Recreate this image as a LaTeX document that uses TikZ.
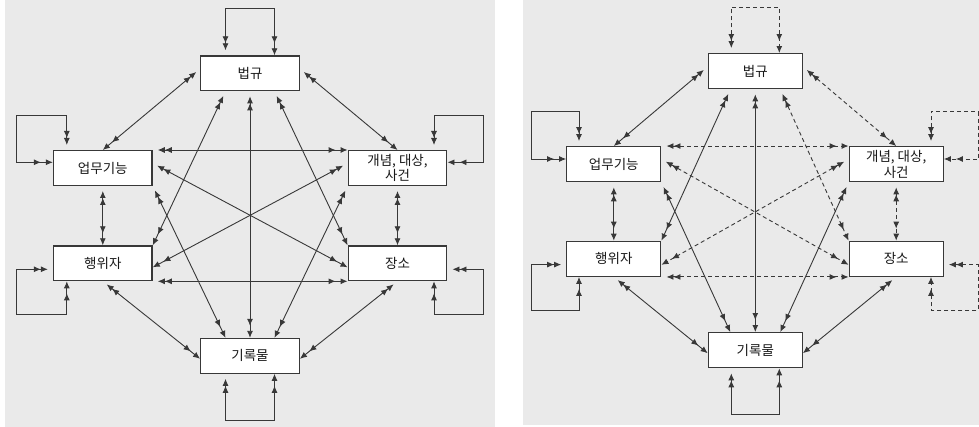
\documentclass[tikz,border=0pt]{standalone}
\usepackage{fontspec}
\newfontfamily\kr{Noto Sans CJK KR}
\usetikzlibrary{arrows.meta, positioning}
\definecolor{panelgray}{HTML}{EAEAEA}
\definecolor{linegray}{HTML}{383838}
\tikzstyle{block}=[draw=linegray,fill=white,rectangle,line width=1.3pt,inner sep=0pt,align=center,text=black!90,font=\kr\fontsize{13.5pt}{15.5pt}\selectfont]
\tikzstyle{lblock}=[block,minimum width=98.6pt,minimum height=34.7pt]
\tikzstyle{rblock}=[block,minimum width=94pt,minimum height=35pt]
\tikzstyle{link}=[draw=linegray,line width=0.9pt,arrows={Latex[length=7pt,width=6pt,sep=5pt]Latex[length=7pt,width=6pt]-Latex[length=7pt,width=6pt,sep=5pt]Latex[length=7pt,width=6pt]}]
\tikzstyle{dlink}=[link,dash pattern=on 4pt off 3pt]

\begin{document}
\begin{tikzpicture}[x=1pt,y=-1pt]
  \useasboundingbox (0,0) rectangle (979,427);
  \fill[panelgray] (5,0) rectangle (495,427);
  \fill[panelgray] (523,0) rectangle (979,425);

  % left: all links solid
  \node[lblock] (Lbeop) at (250,73.3) {법규};
  \node[lblock] (Lup) at (102.8,168) {업무기능};
  \node[lblock] (Lgae) at (397.5,168) {개념, 대상,\\사건};
  \node[lblock, below=59.3pt of Lup] (Lhaeng) {행위자};
  \node[lblock, below=59.3pt of Lgae] (Ljang) {장소};
  \node[lblock] (Lgi) at (250,355.8) {기록물};

  \coordinate (Lbeoptop) at (250,8.3);
  \coordinate (Luptop) at (16.7,115);
  \coordinate (Lhaengbot) at (16.7,314);
  \coordinate (Lgaetop) at (483.3,115);
  \coordinate (Ljangbot) at (483.3,314);
  \coordinate (Lgibot) at (250,420.7);

  \draw[link] ([xshift=-24.5pt]Lbeop.north) |- (Lbeoptop) -| ([xshift=24.5pt]Lbeop.north);
  \draw[link] ([xshift=-36pt]Lup.north) |- (Luptop) |- ([yshift=5.7pt]Lup.west);
  \draw[link] ([yshift=-6pt]Lhaeng.west) -| (Lhaengbot) -| ([xshift=-36pt]Lhaeng.south);
  \draw[link] ([xshift=36.5pt]Lgae.north) |- (Lgaetop) |- ([yshift=5.7pt]Lgae.east);
  \draw[link] ([yshift=-6pt]Ljang.east) -| (Ljangbot) -| ([xshift=36.5pt]Ljang.south);
  \draw[link] ([xshift=-24.5pt]Lgi.south) |- (Lgibot) -| ([xshift=24.5pt]Lgi.south);

  \draw[link] ([yshift=4.5pt]Lbeop.west) -- (Lup.north);
  \draw[link] ([yshift=4.5pt]Lbeop.east) -- (Lgae.north);
  \draw[link] ([xshift=-24.5pt]Lbeop.south) -- (Lhaeng.north east);
  \draw[link] (Lbeop.south) -- (Lgi.north);
  \draw[link] ([xshift=24.5pt]Lbeop.south) -- (Ljang.north west);
  \draw[link] (Lup.north east) -- (Lgae.north west);
  \draw[link] (Lhaeng.south east) -- (Ljang.south west);
  \draw[link] ([yshift=4.7pt]Lup.east) -- ([yshift=-4pt]Ljang.west);
  \draw[link] ([yshift=4.7pt]Lgae.west) -- ([yshift=-4pt]Lhaeng.east);
  \draw[link] (Lup.south east) -- ([xshift=-24.5pt]Lgi.north);
  \draw[link] (Lgae.south west) -- ([xshift=24.5pt]Lgi.north);
  \draw[link] (Lup.south) -- (Lhaeng.north);
  \draw[link] (Lgae.south) -- (Ljang.north);
  \draw[link] (Lhaeng.south) -- ([yshift=-3pt]Lgi.west);
  \draw[link] (Ljang.south) -- ([yshift=-3pt]Lgi.east);

  % right: some links dashed
  \node[rblock] (Rbeop) at (755.3,71.2) {법규};
  \node[rblock] (Rup) at (613.8,164.2) {업무기능};
  \node[rblock] (Rgae) at (896.2,164.2) {개념, 대상,\\사건};
  \node[rblock, below=58.3pt of Rup] (Rhaeng) {행위자};
  \node[rblock, below=58.3pt of Rgae] (Rjang) {장소};
  \node[rblock] (Rgi) at (755.3,350.2) {기록물};

  \coordinate (Rbeoptop) at (755.3,7.3);
  \coordinate (Ruptop) at (531.7,111.7);
  \coordinate (Rhaengbot) at (531.7,310);
  \coordinate (Rgaetop) at (978.2,111.7);
  \coordinate (Rjangbot) at (978.2,310);
  \coordinate (Rgibot) at (755.3,414.3);

  \draw[dlink] ([xshift=-24pt]Rbeop.north) |- (Rbeoptop) -| ([xshift=24pt]Rbeop.north);
  \draw[link] ([xshift=-34.8pt]Rup.north) |- (Ruptop) |- ([yshift=5.2pt]Rup.west);
  \draw[link] ([yshift=-5.8pt]Rhaeng.west) -| (Rhaengbot) -| ([xshift=-34.8pt]Rhaeng.south);
  \draw[dlink] ([xshift=34.8pt]Rgae.north) |- (Rgaetop) |- ([yshift=5.2pt]Rgae.east);
  \draw[dlink] ([yshift=-5.8pt]Rjang.east) -| (Rjangbot) -| ([xshift=34.8pt]Rjang.south);
  \draw[link] ([xshift=-24pt]Rgi.south) |- (Rgibot) -| ([xshift=24pt]Rgi.south);

  \draw[link] ([yshift=4.5pt]Rbeop.west) -- (Rup.north);
  \draw[dlink] ([yshift=4.5pt]Rbeop.east) -- (Rgae.north);
  \draw[link] ([xshift=-25pt]Rbeop.south) -- (Rhaeng.north east);
  \draw[link] (Rbeop.south) -- (Rgi.north);
  \draw[dlink] ([xshift=25pt]Rbeop.south) -- (Rjang.north west);
  \draw[dlink] (Rup.north east) -- (Rgae.north west);
  \draw[dlink] (Rhaeng.south east) -- (Rjang.south west);
  \draw[dlink] ([yshift=5pt]Rup.east) -- ([yshift=-6pt]Rjang.west);
  \draw[dlink] ([yshift=5pt]Rgae.west) -- ([yshift=-6pt]Rhaeng.east);
  \draw[link] (Rup.south east) -- ([xshift=-25pt]Rgi.north);
  \draw[link] (Rgae.south west) -- ([xshift=25pt]Rgi.north);
  \draw[link] (Rup.south) -- (Rhaeng.north);
  \draw[dlink] (Rgae.south) -- (Rjang.north);
  \draw[link] (Rhaeng.south) -- ([yshift=-3pt]Rgi.west);
  \draw[link] (Rjang.south) -- ([yshift=-3pt]Rgi.east);
\end{tikzpicture}
\end{document}
